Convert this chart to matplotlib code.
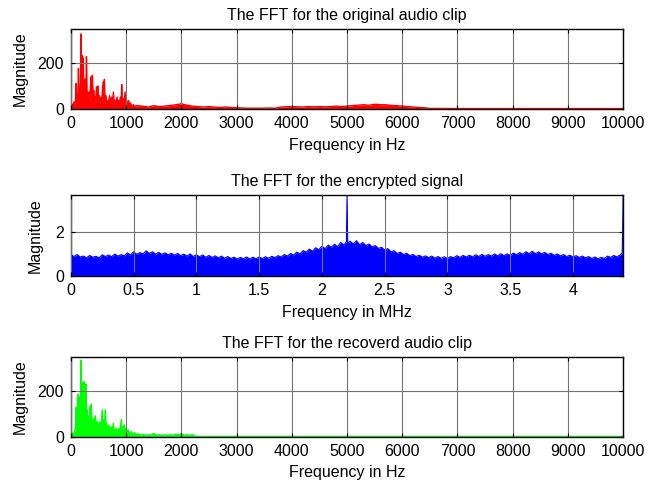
import matplotlib
matplotlib.use("Agg")
import matplotlib.pyplot as plt

plt.rcParams['font.family'] = ['Liberation Sans', 'DejaVu Sans']
plt.rcParams['font.size'] = 11.5

# ---- Original audio clip spectrum (Hz, magnitude) ----
orig_freq = [0, 10, 25, 40, 55, 70, 85, 96, 105, 115, 125, 138, 148, 160, 170, 187, 195, 203, 210, 217,
             225, 232, 240, 250, 262, 270, 283, 292, 305, 315, 330, 340, 352, 367, 375, 391, 400, 415, 425, 440,
             450, 465, 475, 488, 497, 515, 525, 545, 560, 584, 592, 608, 617, 635, 650, 665, 680, 700, 715, 740,
             755, 770, 785, 800, 815, 835, 848, 860, 875, 895, 910, 921, 932, 950, 965, 981, 995, 1010, 1025, 1045,
             1060, 1080, 1100, 1130, 1160, 1190, 1300, 1400, 1500, 1600, 1700, 1800, 1900, 2000, 2100, 2200,
             2300, 2400, 2500, 2600, 2700, 2800, 2900, 3000, 3100, 3200, 3300, 3400, 3500, 3600, 3700, 3800,
             3900, 4000, 4100, 4200, 4300, 4400, 4500, 4600, 4700, 4800, 4900, 5000, 5100, 5200, 5300, 5400,
             5500, 5600, 5700, 5800, 5900, 6000, 6100, 6200, 6300, 6400, 6500, 7000, 8000, 9000, 10000]
orig_mag = [55, 15, 20, 8, 30, 12, 40, 110, 30, 60, 25, 175, 40, 95, 45, 324, 60, 150, 230, 70,
            219, 60, 110, 50, 130, 40, 226, 55, 73, 40, 73, 35, 90, 139, 45, 146, 50, 80, 30, 51,
            40, 95, 35, 99, 30, 58, 25, 51, 40, 117, 45, 128, 30, 58, 20, 36, 20, 58, 25, 51,
            20, 73, 25, 36, 20, 51, 20, 36, 20, 51, 30, 105, 25, 44, 30, 73, 20, 36, 15, 36,
            15, 26, 12, 18, 10, 14, 12, 8, 14, 10, 12, 15, 18, 22, 16, 12,
            10, 8, 10, 8, 6, 8, 6, 5, 4, 3, 3, 3, 3, 4, 3, 8,
            9, 10, 9, 8, 10, 9, 10, 9, 10, 12, 10, 12, 14, 16, 18, 16,
            20, 18, 18, 15, 14, 12, 10, 8, 6, 5, 2, 1.5, 1.5, 1.5, 1.5]

# ---- Encrypted signal spectrum (MHz, magnitude) ----
enc_freq = [0.000, 0.005, 0.025, 0.050, 0.075, 0.100, 0.125, 0.150, 0.175, 0.200, 0.225, 0.250, 0.275,
            0.300, 0.325, 0.350, 0.375, 0.400, 0.425, 0.450, 0.475, 0.500, 0.525, 0.550, 0.575, 0.600,
            0.625, 0.650, 0.675, 0.700, 0.725, 0.750, 0.775, 0.800, 0.825, 0.850, 0.875, 0.900, 0.925,
            0.950, 0.975, 1.000, 1.025, 1.050, 1.075, 1.100, 1.125, 1.150, 1.175, 1.200, 1.225, 1.250,
            1.275, 1.300, 1.325, 1.350, 1.375, 1.400, 1.425, 1.450, 1.475, 1.500, 1.525, 1.550, 1.575,
            1.600, 1.625, 1.650, 1.675, 1.700, 1.725, 1.750, 1.775, 1.800, 1.825, 1.850, 1.875, 1.900,
            1.925, 1.950, 1.975, 2.000, 2.025, 2.050, 2.075, 2.100, 2.125, 2.150, 2.175, 2.195, 2.200,
            2.205, 2.225, 2.250, 2.275, 2.300, 2.325, 2.350, 2.375, 2.400, 2.425, 2.450, 2.475, 2.500,
            2.525, 2.550, 2.575, 2.600, 2.625, 2.650, 2.675, 2.700, 2.725, 2.750, 2.775, 2.800, 2.825,
            2.850, 2.875, 2.900, 2.925, 2.950, 2.975, 3.000, 3.025, 3.050, 3.075, 3.100, 3.125, 3.150,
            3.175, 3.200, 3.225, 3.250, 3.275, 3.300, 3.325, 3.350, 3.375, 3.400, 3.425, 3.450, 3.475,
            3.500, 3.525, 3.550, 3.575, 3.600, 3.625, 3.650, 3.675, 3.700, 3.725, 3.750, 3.775, 3.800,
            3.825, 3.850, 3.875, 3.900, 3.925, 3.950, 3.975, 4.000, 4.025, 4.050, 4.075, 4.100, 4.125,
            4.150, 4.175, 4.200, 4.225, 4.250, 4.275, 4.300, 4.325, 4.350, 4.375, 4.392, 4.400]
enc_mag = [3.70, 0.95, 0.88, 0.97, 0.86, 0.90, 0.82, 0.93, 0.85, 0.89, 0.82, 0.96, 0.88,
           0.95, 0.87, 0.99, 0.90, 0.97, 0.91, 1.05, 0.95, 1.10, 0.98, 1.06, 1.00, 1.14,
           1.02, 1.10, 0.99, 1.07, 0.98, 1.05, 0.96, 1.03, 0.94, 1.02, 0.92, 0.99, 0.90,
           1.00, 0.88, 0.96, 0.87, 0.95, 0.85, 0.93, 0.84, 0.91, 0.82, 0.90, 0.80, 0.88,
           0.79, 0.85, 0.77, 0.84, 0.78, 0.86, 0.77, 0.85, 0.78, 0.86, 0.79, 0.87, 0.80,
           0.89, 0.83, 0.92, 0.86, 0.97, 0.90, 1.02, 0.95, 1.08, 1.00, 1.15, 1.08, 1.22,
           1.12, 1.28, 1.19, 1.35, 1.24, 1.40, 1.30, 1.44, 1.33, 1.52, 1.40, 1.55, 3.70,
           1.48, 1.58, 1.45, 1.60, 1.42, 1.52, 1.38, 1.45, 1.32, 1.38, 1.25, 1.30, 1.18,
           1.24, 1.10, 1.14, 1.02, 1.08, 0.97, 1.03, 0.92, 0.98, 0.88, 0.94, 0.85, 0.91,
           0.83, 0.90, 0.81, 0.88, 0.80, 0.87, 0.79, 0.88, 0.82, 0.92, 0.84, 0.93, 0.86,
           0.94, 0.86, 0.96, 0.88, 0.98, 0.89, 0.97, 0.90, 1.00, 0.91, 1.01, 0.92, 1.00,
           0.93, 1.04, 0.96, 1.06, 0.98, 1.10, 1.00, 1.12, 1.01, 1.09, 1.00, 1.07, 0.97,
           1.03, 0.93, 1.00, 0.91, 0.97, 0.88, 0.94, 0.86, 0.92, 0.84, 0.90, 0.82, 0.88,
           0.79, 0.86, 0.78, 0.84, 0.80, 0.90, 0.84, 0.93, 0.86, 0.95, 1.05, 3.70]

# ---- Recovered audio clip spectrum (Hz, magnitude) ----
rec_freq = [0, 8, 20, 40, 55, 70, 85, 96, 105, 115, 125, 133, 138, 145, 155, 165, 175, 187, 195, 203,
            210, 217, 227, 235, 242, 250, 258, 268, 277, 285, 295, 305, 320, 335, 348, 358, 370, 380, 395, 410,
            420, 432, 445, 458, 470, 482, 495, 510, 525, 540, 560, 572, 580, 595, 610, 626, 635, 650, 665, 690,
            705, 730, 745, 770, 785, 820, 840, 870, 890, 915, 925, 945, 955, 969, 980, 1000, 1020, 1040, 1060, 1090,
            1120, 1150, 1180, 1220, 1260, 1300, 1350, 1400, 1450, 1500, 1550, 1600, 1650, 1700, 1750, 1800,
            1850, 1900, 1950, 2000, 2050, 2100, 2150, 2200, 2250, 2300, 10000]
rec_mag = [348, 20, 10, 15, 8, 25, 40, 128, 35, 80, 30, 185, 60, 174, 50, 100, 60, 333, 70, 140,
           235, 80, 180, 239, 70, 130, 60, 110, 229, 50, 116, 40, 90, 50, 130, 60, 141, 40, 72, 35,
           80, 40, 90, 35, 65, 30, 58, 30, 65, 35, 80, 116, 40, 72, 45, 116, 30, 58, 25, 51,
           25, 43, 20, 58, 20, 36, 20, 36, 20, 75, 20, 43, 20, 51, 20, 36, 15, 29, 12, 22,
           10, 17, 8, 12, 6, 10, 6, 8, 6, 14, 6, 8, 5, 8, 5, 8,
           6, 10, 8, 12, 6, 8, 4, 9, 1, 0.5, 0.5]

grid_kw = dict(color='0.45', linewidth=0.8, linestyle='-')

fig = plt.figure(figsize=(6.56, 4.84), dpi=100)
ax1 = fig.add_axes([0.108, 0.775, 0.842, 0.165])
ax2 = fig.add_axes([0.108, 0.430, 0.842, 0.168])
ax3 = fig.add_axes([0.108, 0.098, 0.842, 0.165])


def style(ax):
    ax.tick_params(direction='in', top=True, right=True, length=3, width=0.8,
                   labelsize=11.5, pad=5)
    ax.grid(True, **grid_kw)
    ax.set_axisbelow(False)
    for s in ax.spines.values():
        s.set_linewidth(1.0)
        s.set_color('black')


# Top
ax1.fill_between(orig_freq, orig_mag, 0, color='#FF0000', linewidth=0)
ax1.plot(orig_freq, orig_mag, color='#FF0000', linewidth=1.0)
ax1.set_xlim(0, 10000)
ax1.set_ylim(0, 345)
ax1.set_xticks([0, 1000, 2000, 3000, 4000, 5000, 6000, 7000, 8000, 9000, 10000])
ax1.set_yticks([0, 200])
ax1.set_title('The FFT for the original audio clip', fontsize=11.5, pad=6.5)
ax1.set_xlabel('Frequency in Hz', labelpad=5)
ax1.set_ylabel('Magnitude', labelpad=7)
style(ax1)

# Middle
ax2.fill_between(enc_freq, enc_mag, 0, color='#0000FF', linewidth=0)
ax2.plot(enc_freq, enc_mag, color='#0000FF', linewidth=0.8)
ax2.set_xlim(0, 4.4)
ax2.set_ylim(0, 3.7)
ax2.set_xticks([0, 0.5, 1, 1.5, 2, 2.5, 3, 3.5, 4])
ax2.set_xticklabels(['0', '0.5', '1', '1.5', '2', '2.5', '3', '3.5', '4'])
ax2.set_yticks([0, 2])
ax2.set_title('The FFT for the encrypted signal', fontsize=11.5, pad=6.5)
ax2.set_xlabel('Frequency in MHz', labelpad=5)
ax2.set_ylabel('Magnitude', labelpad=9)
style(ax2)

# Bottom
ax3.fill_between(rec_freq, rec_mag, 0, color='#00FF00', linewidth=0)
ax3.plot(rec_freq, rec_mag, color='#00FF00', linewidth=1.0)
ax3.set_xlim(0, 10000)
ax3.set_ylim(0, 348)
ax3.set_xticks([0, 1000, 2000, 3000, 4000, 5000, 6000, 7000, 8000, 9000, 10000])
ax3.set_yticks([0, 200])
ax3.set_title('The FFT for the recoverd audio clip', fontsize=11.5, pad=6.5)
ax3.set_xlabel('Frequency in Hz', labelpad=5)
ax3.set_ylabel('Magnitude', labelpad=7)
style(ax3)

fig.savefig('out.png', dpi=100)
